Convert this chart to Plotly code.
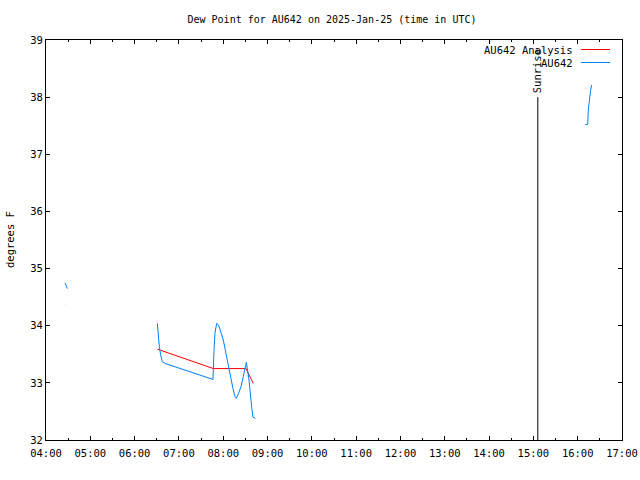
import plotly.graph_objects as go

DAY = "2025-01-25 "

# Observed series (AU642) - segments separated by None
obs_time = [
    "04:25:42", "04:29:00", None,
    "06:30:48", "06:32:06", "06:33:30", "06:35:18", "06:37:30", "06:41:06",
    "07:44:18", "07:46:06", "07:47:30", "07:48:48", "07:51:06", "07:53:48",
    "08:00:06", "08:03:42", "08:06:54", "08:10:06", "08:13:12", "08:15:54",
    "08:17:42", "08:20:54", "08:24:00", "08:27:12", "08:29:54", "08:31:18",
    "08:34:54", "08:36:42", "08:38:30", "08:40:18", "08:43:30", None,
    "16:10:18", "16:13:30", "16:14:24", "16:15:42", "16:17:30", "16:18:54",
]
obs_val = [
    34.75, 34.65, None,
    34.04, 33.81, 33.63, 33.49, 33.37, 33.34,
    33.07, 33.06, 33.57, 33.87, 34.04, 34.01,
    33.75, 33.52, 33.25, 33.05, 32.90, 32.76,
    32.73, 32.82, 32.93, 33.11, 33.31, 33.36,
    33.05, 32.76, 32.58, 32.40, 32.38, None,
    37.52, 37.52, 37.78, 37.95, 38.12, 38.21,
]

# Analysis series (AU642 Analysis)
ana_time = [
    "04:25:42", "04:26:00", None,
    "06:30:48", "07:46:36", "08:30:48", "08:40:42", None,
    "16:10:00", "16:10:20",
]
ana_val = [
    34.36, 34.36, None,
    33.59, 33.25, 33.25, 32.99, None,
    38.15, 38.15,
]

sunrise_time = "15:06:00"
sunrise_top = 38.0

x_ticks = ["%02d:00" % h for h in range(4, 18)]
y_ticks = [32, 33, 34, 35, 36, 37, 38, 39]

def ts(lst):
    return [None if t is None else DAY + t for t in lst]

RED = "#ff0000"
BLUE = "#0080ff"
FONT = "DejaVu Sans Mono"

fig = go.Figure()
fig.add_trace(go.Scatter(x=ts(ana_time), y=ana_val, mode="lines",
                         line=dict(color=RED, width=1), name="AU642 Analysis",
                         connectgaps=False, showlegend=False))
fig.add_trace(go.Scatter(x=ts(obs_time), y=obs_val, mode="lines",
                         line=dict(color=BLUE, width=1), name="AU642",
                         connectgaps=False, showlegend=False))

# Sunrise marker
fig.add_shape(type="line", xref="x", yref="y",
              x0=DAY + sunrise_time, x1=DAY + sunrise_time,
              y0=32, y1=sunrise_top, line=dict(color="black", width=1))
fig.add_annotation(x=DAY + sunrise_time, y=38.45, xref="x", yref="y",
                   text="Sunrise", textangle=-90, showarrow=False,
                   xanchor="center", yanchor="middle",
                   font=dict(family=FONT, size=10.5, color="black"))

# Legend (gnuplot style: text then line sample)
leg = [("AU642 Analysis", RED, 49.5), ("AU642", BLUE, 62.5)]
for label, col, ypx in leg:
    yp = 1 - (ypx - 40) / 400.0
    fig.add_annotation(x=(575 - 46) / 576.0, y=yp, xref="paper", yref="paper",
                       text=label, showarrow=False, xanchor="right",
                       yanchor="middle",
                       font=dict(family=FONT, size=10.5, color="black"))
    fig.add_shape(type="line", xref="paper", yref="paper",
                  x0=(581 - 46) / 576.0, x1=(610 - 46) / 576.0, y0=yp, y1=yp,
                  line=dict(color=col, width=1))

# Y axis label
fig.add_annotation(x=0, y=0.5, xref="paper", yref="paper", xshift=-36,
                   text="degrees F", textangle=-90, showarrow=False,
                   xanchor="center", yanchor="middle",
                   font=dict(family=FONT, size=10.5, color="black"))

fig.update_layout(
    width=640, height=480,
    margin=dict(l=46, r=18, t=40, b=40, autoexpand=False),
    paper_bgcolor="white", plot_bgcolor="white",
    font=dict(family=FONT, size=10.5, color="black"),
    title=dict(text="Dew Point for AU642 on 2025-Jan-25 (time in UTC)",
               x=(332) / 640.0, xanchor="center", y=1 - 19 / 480.0,
               yanchor="middle", font=dict(family=FONT, size=10)),
    showlegend=False,
)
fig.update_xaxes(
    range=[DAY + "04:00:00", DAY + "17:00:00"],
    tickvals=[DAY + t for t in x_ticks], ticktext=x_ticks,
    ticks="inside", ticklen=4, tickcolor="black", tickwidth=1,
    showline=True, linecolor="black", linewidth=1, mirror="allticks",
    showgrid=False, zeroline=False, automargin=False,
    ticklabelstandoff=3,
    minor=dict(ticks="inside", ticklen=2, tickcolor="black",
               tickvals=[DAY + "%02d:30" % h for h in range(4, 17)],
               showgrid=False),
)
fig.update_yaxes(
    range=[32, 39], tickvals=y_ticks,
    ticks="inside", ticklen=4, tickcolor="black", tickwidth=1,
    showline=True, linecolor="black", linewidth=1, mirror="allticks",
    showgrid=False, zeroline=False, automargin=False,
)

fig.write_html("out.html")
